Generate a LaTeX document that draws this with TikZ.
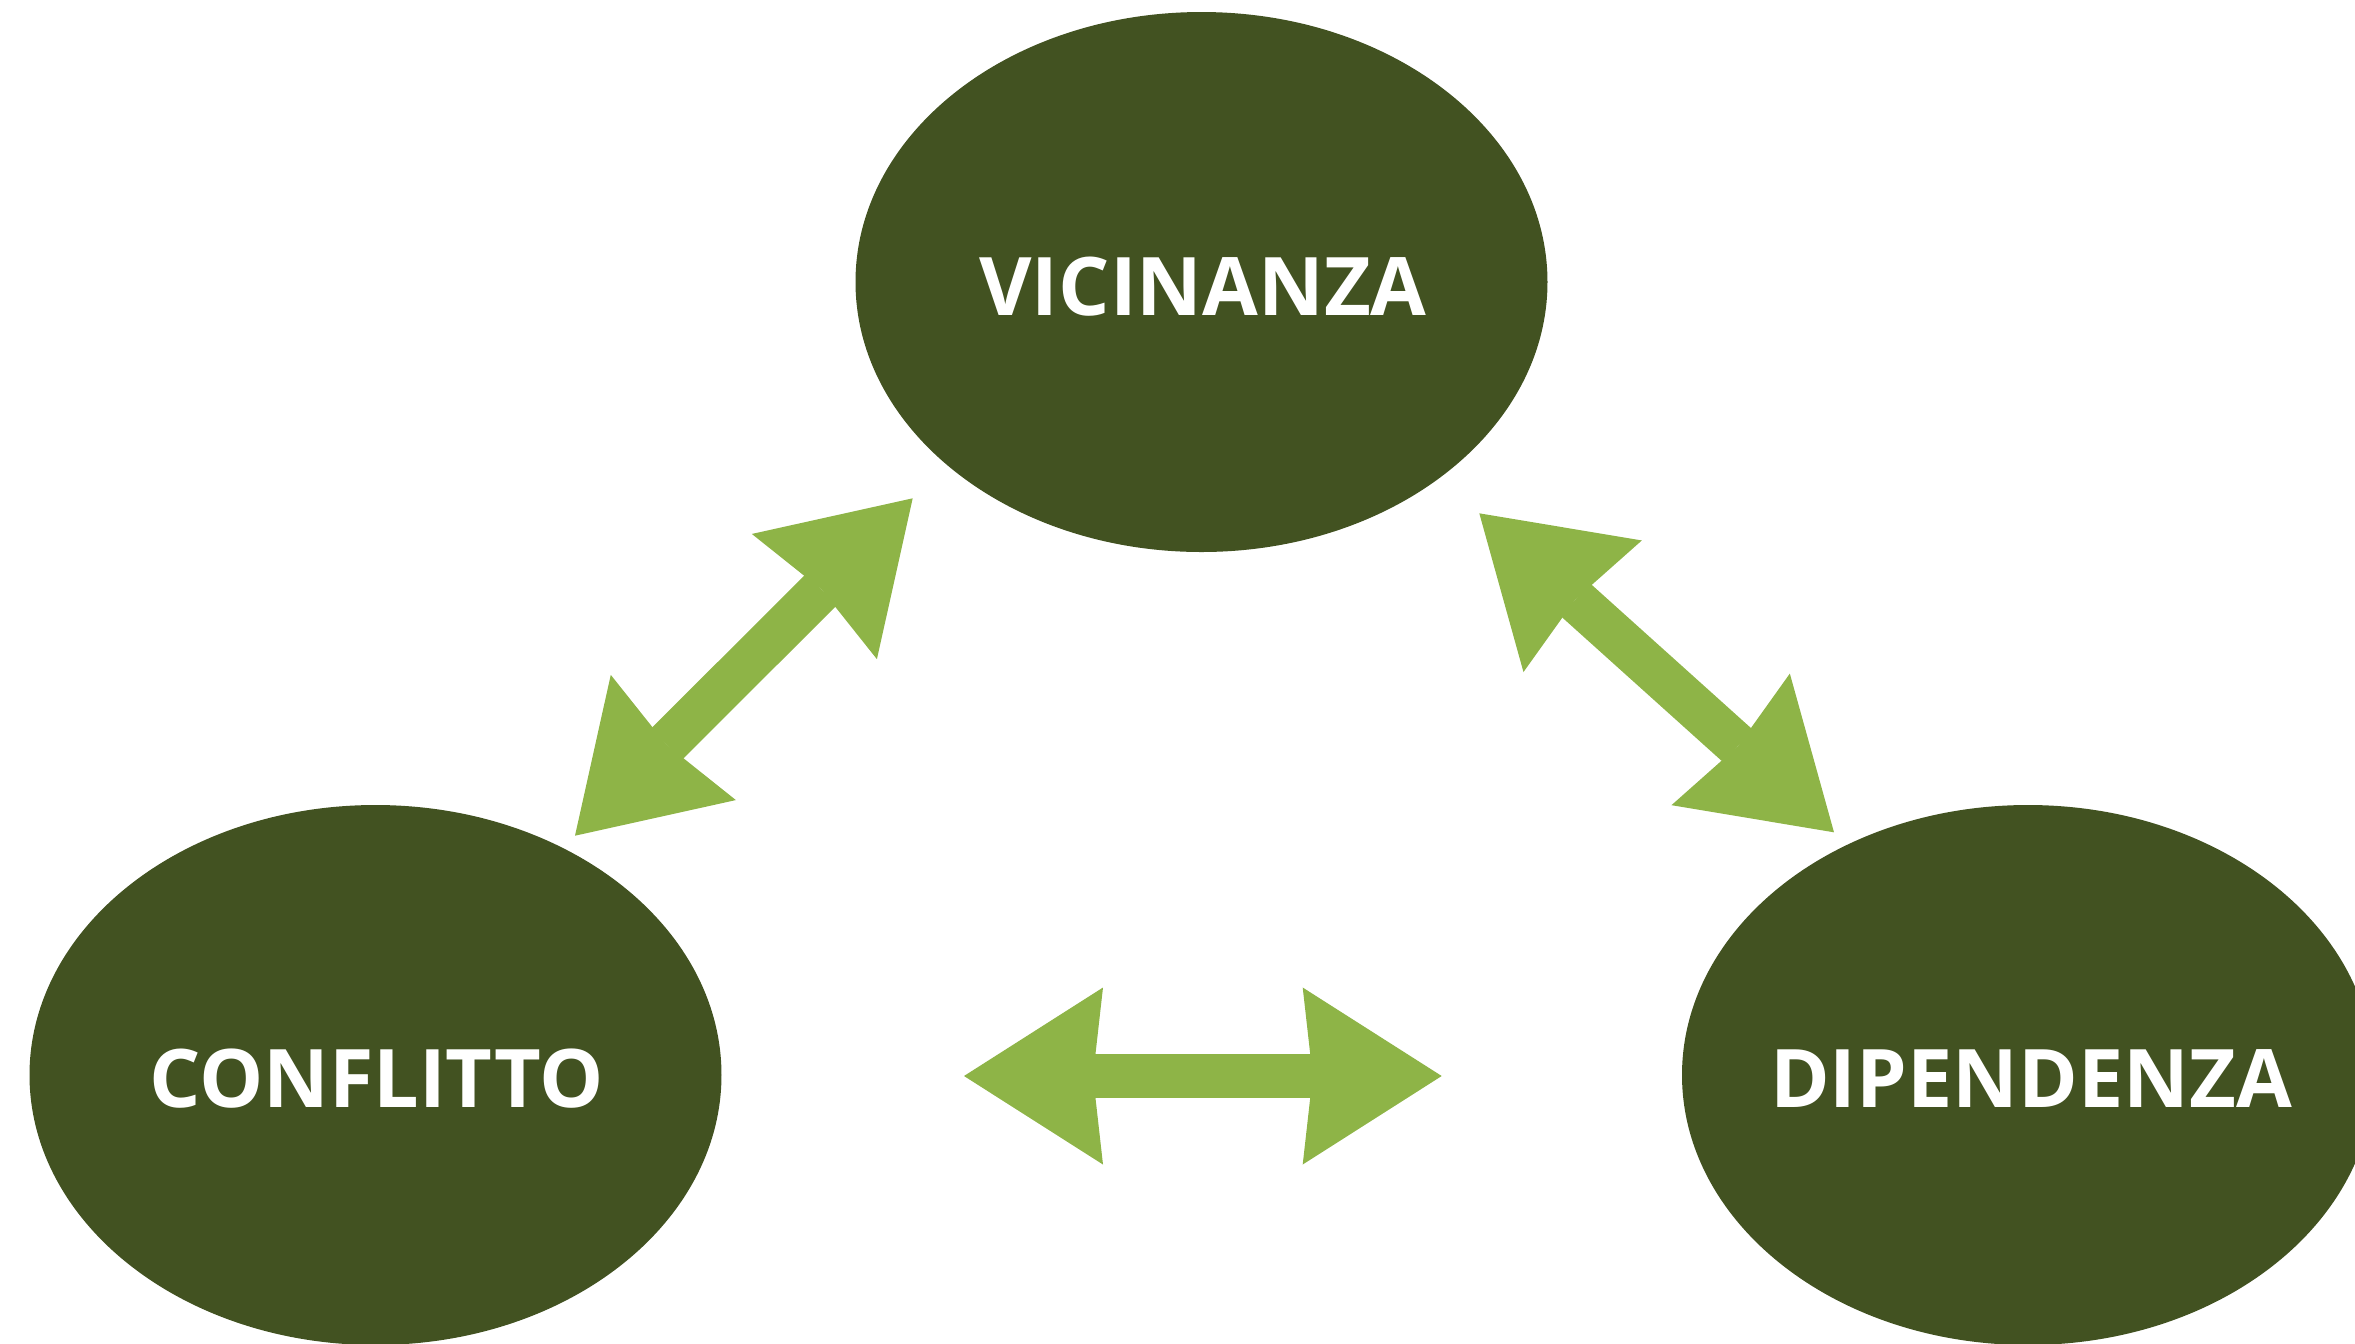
\documentclass[tikz,border=0pt]{standalone}
\usepackage{fontspec}
\setmainfont{Open Sans}
\usetikzlibrary{arrows.meta,shapes.geometric}
\definecolor{bubblegreen}{RGB}{66,82,33}
\definecolor{arrowgreen}{RGB}{142,180,71}

\begin{document}
        \begin{tikzpicture}[x=0.1mm, y=-0.1mm,
                bubble/.style={ellipse, fill=bubblegreen, inner sep=0pt, minimum width=69.2mm, minimum height=54mm},
                word/.style={text=white, inner sep=0pt, font=\fontsize{23}{28}\selectfont\bfseries},
                blockhead/.tip={Stealth[length=13.9mm, width=17.7mm, inset=1mm, line width=0pt]},
                bothway/.style={arrowgreen, line width=4.4mm, {blockhead}-{blockhead}}]
            \useasboundingbox (0,0) rectangle (2355,1343);
            \clip (0,0) rectangle (2355,1343);

            \node[bubble] (vic) at (1201.5,282) {};
            \node[bubble] (con) at (375.5,1075) {};
            \node[bubble] (dip) at (2028,1075) {};
            \node[word] (vicname) at (1203,287) {VICINANZA};
            \node[word] (conname) at (376.5,1078.5) {CONFLITTO};
            \node[word] (dipname) at (2031,1078.5) {DIPENDENZA};

            \path (575,835.7) coordinate (cv1);
            \path (912.7,498.3) coordinate (cv2);
            \path (1479.3,513.3) coordinate (vd1);
            \path (1834,832.3) coordinate (vd2);
            \path (964,1076) coordinate (cd1);
            \path (1441.7,1076) coordinate (cd2);

            \draw[bothway] (cv1) -- (cv2);
            \draw[bothway] (vd1) -- (vd2);
            \draw[bothway] (cd1) -- (cd2);
        \end{tikzpicture}
\end{document}
